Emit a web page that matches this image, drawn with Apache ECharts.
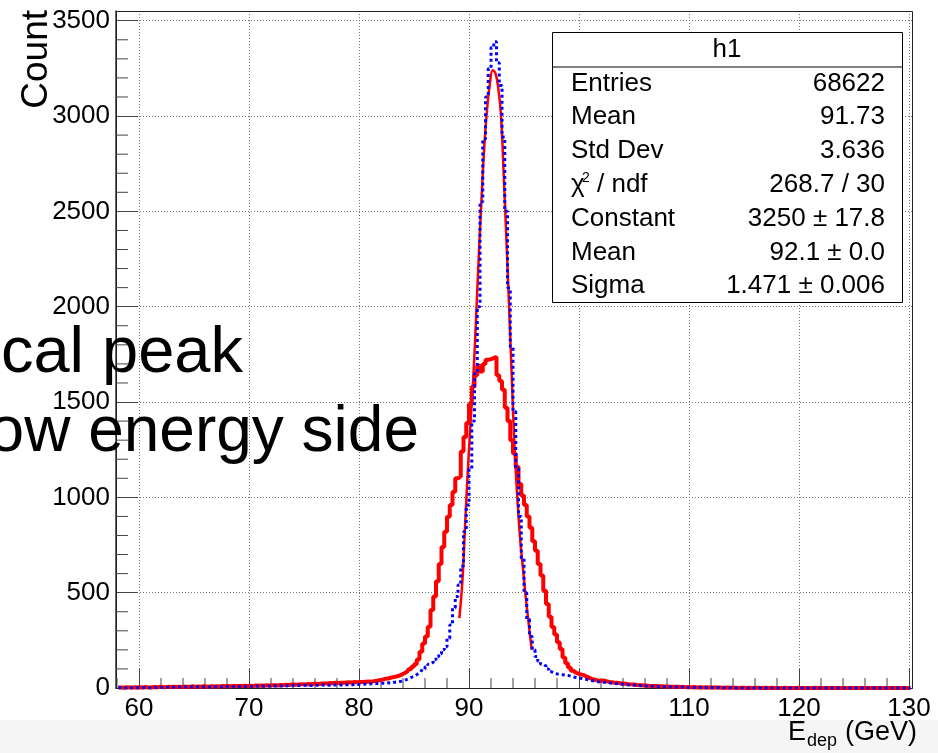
<!DOCTYPE html>
<html><head><meta charset="utf-8">
<script src="https://cdn.jsdelivr.net/npm/echarts@6/dist/echarts.min.js"></script>
<style>html,body{margin:0;padding:0;background:#fff}#c{width:938px;height:753px}</style>
</head><body><div id="c"></div>
<script>
// ---------------- data ----------------
const binStart = 58.0;   // GeV, lower edge of first bin
const binWidth = 0.25;   // GeV
// red (wide) histogram, 4 bins per GeV, rows start at 58,59,...,130
const redCounts = [
  2,3,1,4, 3,2,4,3, 4,3,5,2, 3,5,4,6, 5,4,6,5, 6,5,7,5, 8,6,7,9, 6,8,7,9, 8,7,9,8, 9,8,10,9,
  10,9,11,10, 11,10,12,11, 12,11,13,12, 13,12,14,13, 15,14,13,16, 15,17,16,18, 18,17,19,20, 19,21,20,22, 22,21,24,23, 24,26,25,27,
  26,28,27,29, 30,29,31,30, 32,31,33,34, 33,36,38,41, 44,48,50,54, 57,60,64,70, 77,86,98,112, 125,150,190,234, 270,321,409,480, 560,650,740,820,
  898,960,1030,1100, 1110,1240,1317,1390, 1490,1580,1640,1690, 1660,1700,1722,1725, 1730,1738,1640,1610, 1565,1470,1400,1300, 1230,1160,1070,1010, 960,900,840,770, 720,650,590,510, 440,374,320,280,
  240,205,160,130, 108,90,80,74, 70,66,58,52, 46,42,40,36, 40,35,32,30, 28,27,25,24, 22,20,19,18, 16,15,14,13, 12,11,11,10, 9,9,8,8,
  7,7,6,6, 5,6,4,5, 4,5,3,4, 3,4,3,2, 3,2,2,1, 1,2,1,1, 1,0,1,1, 0,1,0,1, 1,0,0,1, 0,1,0,0,
  0,0,1,0, 0,0,0,1, 0,0,0,0, 0,1,0,0, 0,0,0,0, 0,0,0,0, 0,0,0,0, 0,0,0,0, 0,0,0,0, 0,0,0,0,
  0,0,0,0, 0,0,0,0,
  0
];
// blue (narrow) histogram, same binning
const blueCounts = [
  1,2,0,1, 2,1,1,2, 1,2,3,1, 2,3,2,3, 3,2,4,3, 4,3,5,4, 6,5,7,6, 5,7,6,5, 6,5,7,6, 7,6,8,7,
  8,7,6,8, 8,9,7,8, 9,8,10,9, 10,9,11,10, 11,10,12,11, 12,11,13,12, 13,12,14,13, 14,15,13,14, 15,14,16,15, 16,15,17,16,
  17,16,18,17, 18,17,19,18, 19,20,21,20, 22,21,23,24, 25,24,27,26, 29,31,33,36, 40,45,52,59, 66,75,84,100, 112,125,135,150, 164,180,200,216,
  260,330,420,480, 540,640,820,960, 1150,1400,1650,2000, 2550,2880,3100,3250, 3360,3390,3280,3160, 2890,2500,2100,1790, 1450,1150,900,680, 500,360,270,200, 165,140,125,115, 100,85,80,74,
  72,70,68,66, 62,58,55,52, 50,46,44,41, 38,36,33,31, 30,28,27,25, 24,22,21,20, 18,17,16,15, 14,13,12,12, 10,11,9,9, 8,8,7,7,
  6,6,5,5, 4,5,4,3, 3,3,2,3, 2,2,1,2, 1,1,2,1, 1,0,1,1, 0,1,0,0, 0,0,1,0, 0,0,0,0, 1,0,0,0,
  0,0,0,0, 0,0,0,0, 0,0,0,0, 0,0,0,0, 0,0,0,0, 0,0,0,0, 0,0,0,0, 0,0,0,0, 0,0,0,0, 0,0,0,0,
  0,0,0,0, 0,0,0,0,
  0
];
// gaussian fit curve
const fitEnergy = [89.12,89.4,89.65,89.9,90.15,90.4,90.65,90.9,91.15,91.4,91.65,91.9,92.15,92.4,92.65,92.9,93.15,93.4,93.65,93.9,94.15,94.4,94.65,94.9,95.15,95.4,95.7];
const fitCounts = [367,560,860,1150,1400,1640,1950,2280,2580,2850,3040,3170,3240,3225,3150,3010,2700,2350,1990,1610,1250,990,780,630,480,350,200];

const xTickLabels = [60,70,80,90,100,110,120,130];
const yTickLabels = [0,500,1000,1500,2000,2500,3000,3500];
const xRange = [57.91, 130.27];
const yRange = [0, 3551];

const statsTitle = 'h1';
const statsLabels = ['Entries','Mean','Std Dev','χ','Constant','Mean','Sigma'];
const statsValues = ['68622','91.73','3.636','268.7 / 30','3250 ± 17.8','92.1 ± 0.0','1.471 ± 0.006'];
const yTitle = 'Count';
const overlayLines = ['cal peak','ow energy side'];

// ---------------- build ----------------
const FONT = '"Liberation Sans", Arial, Helvetica, sans-serif';
const toPairs = arr => arr.map((c, i) => [binStart + (i + 0.5) * binWidth, c]);
const redData = toPairs(redCounts);
const blueData = toPairs(blueCounts);
const fitData = fitEnergy.map((e, i) => [e, fitCounts[i]]);

const xMinor = [], yMinor = [];
for (let v = 58; v <= 130; v += 2) if (v % 10 !== 0) xMinor.push([v, 0]);
for (let v = 100; v < 3551; v += 100) if (v % 500 !== 0) yMinor.push([xRange[0], v]);

const chart = echarts.init(document.getElementById('c'), null, {renderer: 'canvas'});

const G = {left: 116, top: 11, w: 796, h: 677};
const graphics = [];
// bottom band
graphics.push({type: 'rect', z: -5, shape: {x: 0, y: 720, width: 938, height: 33}, style: {fill: '#f5f5f5'}, silent: true});
// frame
graphics.push({type: 'rect', z: 1, shape: {x: G.left + 0.5, y: G.top + 0.5, width: G.w, height: G.h}, style: {fill: null, stroke: '#222', lineWidth: 1}, silent: true});
// stats box
const SB = {x: 552.5, y: 32.5, w: 350, h: 270, hdr: 34.5};
graphics.push({type: 'rect', z: 10, shape: {x: SB.x, y: SB.y, width: SB.w, height: SB.h}, style: {fill: '#fff', stroke: '#000', lineWidth: 1}});
graphics.push({type: 'line', z: 11, shape: {x1: SB.x, y1: SB.y + SB.hdr, x2: SB.x + SB.w, y2: SB.y + SB.hdr}, style: {stroke: '#000', lineWidth: 1}});
graphics.push({type: 'text', z: 12, x: 727, y: 50, style: {text: statsTitle, fontSize: 26, fontFamily: FONT, fill: '#000', align: 'center', verticalAlign: 'middle'}});
statsLabels.forEach((lab, i) => {
  const cy = 83.5 + i * 33.8;
  graphics.push({type: 'text', z: 12, x: 571, y: cy, style: {text: lab, fontSize: 26, fontFamily: FONT, fill: '#000', align: 'left', verticalAlign: 'middle'}});
  graphics.push({type: 'text', z: 12, x: 885, y: cy, style: {text: statsValues[i], fontSize: 26, fontFamily: FONT, fill: '#000', align: 'right', verticalAlign: 'middle'}});
  if (lab === 'χ') {
    graphics.push({type: 'text', z: 12, x: 582, y: cy - 7, style: {text: '2', fontSize: 14, fontFamily: FONT, fill: '#000', align: 'left', verticalAlign: 'middle'}});
    graphics.push({type: 'text', z: 12, x: 597, y: cy, style: {text: '/ ndf', fontSize: 26, fontFamily: FONT, fill: '#000', align: 'left', verticalAlign: 'middle'}});
  }
});
// y title
graphics.push({type: 'text', z: 12, x: 37, y: 10, rotation: Math.PI / 2, style: {text: yTitle, fontSize: 37, fontFamily: FONT, fill: '#000', align: 'right', verticalAlign: 'middle'}});
// x title  E_dep (GeV)
graphics.push({type: 'text', z: 12, x: 917, y: 733, style: {text: '(GeV)', fontSize: 27, fontFamily: FONT, fill: '#000', align: 'right', verticalAlign: 'middle'}});
graphics.push({type: 'text', z: 12, x: 837, y: 741, style: {text: 'dep', fontSize: 18, fontFamily: FONT, fill: '#000', align: 'right', verticalAlign: 'middle'}});
graphics.push({type: 'text', z: 12, x: 806, y: 733, style: {text: 'E', fontSize: 27, fontFamily: FONT, fill: '#000', align: 'right', verticalAlign: 'middle'}});
// overlay slide text
graphics.push({type: 'text', z: 20, x: 243, y: 354, style: {text: overlayLines[0], fontSize: 65, fontFamily: FONT, fill: '#000', align: 'right', verticalAlign: 'middle'}});
graphics.push({type: 'text', z: 20, x: 419, y: 433, style: {text: overlayLines[1], fontSize: 64, fontFamily: FONT, fill: '#000', align: 'right', verticalAlign: 'middle'}});

const minorTick = (len, horizontal) => (params, api) => {
  const p = api.coord([api.value(0), api.value(1)]);
  const s = horizontal ? {x1: p[0], y1: p[1], x2: p[0] + len, y2: p[1]} : {x1: p[0], y1: p[1], x2: p[0], y2: p[1] - len};
  return {type: 'line', shape: s, style: {stroke: '#444', lineWidth: 1}};
};

chart.setOption({
  animation: false,
  backgroundColor: '#fff',
  grid: {left: G.left, top: G.top, width: G.w, height: G.h, show: false},
  xAxis: {
    type: 'value', min: xRange[0], max: xRange[1], minInterval: 10, maxInterval: 10,
    axisLine: {show: true, onZero: false, lineStyle: {color: '#000', width: 1}},
    axisTick: {show: true, inside: true, length: 19, lineStyle: {color: '#444', width: 1}},
    axisLabel: {fontSize: 26, fontFamily: FONT, color: '#000', margin: 8,
      formatter: v => xTickLabels.some(t => Math.abs(t - v) < 1e-6) ? String(Math.round(v)) : ''},
    splitLine: {show: true, showMinLine: false, showMaxLine: false, lineStyle: {type: [1, 2], color: '#777', width: 1}}
  },
  yAxis: {
    type: 'value', min: yRange[0], max: yRange[1], minInterval: 500, maxInterval: 500,
    axisLine: {show: true, onZero: false, lineStyle: {color: '#333', width: 1.5}},
    axisTick: {show: true, inside: true, length: 22, lineStyle: {color: '#444', width: 1}},
    axisLabel: {fontSize: 26, fontFamily: FONT, color: '#000', margin: 6,
      formatter: v => yTickLabels.some(t => Math.abs(t - v) < 1e-6) ? String(Math.round(v)) : ''},
    splitLine: {show: true, showMinLine: false, showMaxLine: false, lineStyle: {type: [1, 2], color: '#777', width: 1}}
  },
  series: [
    {type: 'custom', data: xMinor, renderItem: minorTick(10, false), silent: true, z: 3},
    {type: 'custom', data: yMinor, renderItem: minorTick(12, true), silent: true, z: 3},
    {type: 'line', name: 'wide', data: redData, step: 'middle', showSymbol: false, clip: false, z: 4,
      lineStyle: {color: '#ff0000', width: 4}},
    {type: 'line', name: 'fit', data: fitData, smooth: 0.4, showSymbol: false, clip: false, z: 5,
      lineStyle: {color: '#ff0000', width: 2.5}},
    {type: 'line', name: 'h1', data: blueData, step: 'middle', showSymbol: false, clip: false, z: 6,
      lineStyle: {color: '#0000ff', width: 3, type: [3, 3]}}
  ],
  graphic: graphics
});
</script></body></html>
